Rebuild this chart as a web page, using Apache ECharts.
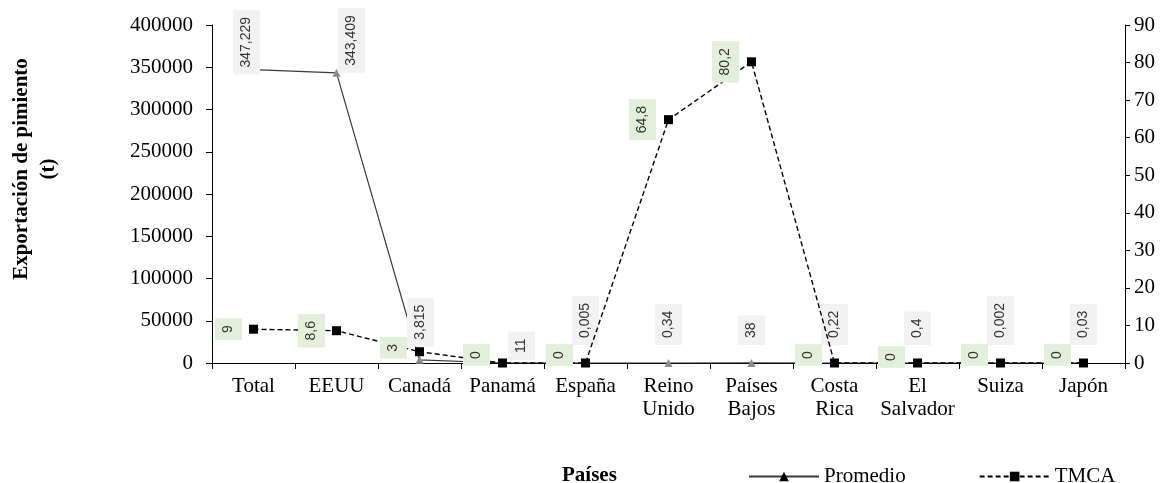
<!DOCTYPE html>
<html>
<head>
<meta charset="utf-8">
<script src="https://cdn.jsdelivr.net/npm/echarts@6/dist/echarts.min.js"></script>
<style>html,body{margin:0;padding:0;background:#fff}#c{width:1164px;height:483px}</style>
</head>
<body>
<div id="c"></div>
<script>
// ---- data ----
const categories = ['Total', 'EEUU', 'Canadá', 'Panamá', 'España', 'Reino\nUnido', 'Países\nBajos', 'Costa\nRica', 'El\nSalvador', 'Suiza', 'Japón'];
const promedio = [347229, 343409, 3815, 11, 0.005, 0.34, 38, 0.22, 0.4, 0.002, 0.03];
const tmca = [9, 8.6, 3, 0, 0, 64.8, 80.2, 0, 0, 0, 0];
const leftTicks = [0, 400000, 50000];   // min, max, interval
const rightTicks = [0, 90, 10];

// ---- label nudges (visual px: [dx, dy]) ----
const promedioNudge = [[-7, 23], [15, 18], [1, 5], [19, 15], [0, 0], [0, 0], [0, 0], [0, 0], [0, 0], [0, 0], [0, 0]];
const tmcaNudge = [[1, 0], [1, 0], [0, -4], [0, -8], [0, -8], [0, 0], [0, 0], [0, -8], [0, -6], [0, -8], [0, -8]];

function fmtProm(v) {
  if (v >= 1000) return v.toLocaleString('en-US');
  return String(v).replace('.', ',');
}
function fmtT(v) { return String(v).replace('.', ','); }
// offset is rotated with the label (90deg CCW): visual (vx,vy) -> offset [-vy, vx]
function off(n) { return [-n[1], n[0]]; }

const labelFont = { fontFamily: 'Liberation Sans', fontSize: 14, color: '#333', lineHeight: 15 };

const promData = promedio.map((v, i) => ({ value: v, label: { offset: off(promedioNudge[i]) } }));
const tmcaData = tmca.map((v, i) => ({ value: v, label: { offset: off(tmcaNudge[i]) } }));

const serif = 'Liberation Serif';
const chart = echarts.init(document.getElementById('c'));
chart.setOption({
  animation: false,
  backgroundColor: '#fff',
  grid: { left: 212, right: 39, top: 25, bottom: 120 },
  title: {
    text: 'Países', left: 562, top: 465, padding: 0,
    textStyle: { fontFamily: serif, fontSize: 21, fontWeight: 'bold', color: '#000' }
  },
  graphic: [{
    type: 'text', x: 35, y: 169, rotation: Math.PI / 2,
    style: {
      text: 'Exportación de pimiento\n(t)', fontFamily: serif, fontSize: 21, fontWeight: 'bold',
      fill: '#000', align: 'center', verticalAlign: 'middle', lineHeight: 27
    }
  }],
  legend: {
    left: 748, top: 466, padding: 0, itemWidth: 70, itemHeight: 12, itemGap: 73,
    textStyle: { fontFamily: serif, fontSize: 21, color: '#000' },
    data: [
      { name: 'Promedio', itemStyle: { color: '#000' } },
      { name: 'TMCA', itemStyle: { color: '#000' } }
    ]
  },
  xAxis: {
    type: 'category', data: categories, boundaryGap: true,
    axisLine: { lineStyle: { color: '#000', width: 1 } },
    axisTick: { show: true, length: 6, lineStyle: { color: '#000' } },
    axisLabel: { fontFamily: serif, fontSize: 21, color: '#000', margin: 12, lineHeight: 23, interval: 0 }
  },
  yAxis: [{
    type: 'value', min: leftTicks[0], max: leftTicks[1], interval: leftTicks[2],
    splitLine: { show: false },
    axisLine: { show: true, lineStyle: { color: '#000' } },
    axisTick: { show: true, length: 6, lineStyle: { color: '#000' } },
    axisLabel: { fontFamily: serif, fontSize: 21, color: '#000', margin: 19, formatter: v => String(v) }
  }, {
    type: 'value', min: rightTicks[0], max: rightTicks[1], interval: rightTicks[2], position: 'right',
    splitLine: { show: false },
    axisLine: { show: true, lineStyle: { color: '#000' } },
    axisTick: { show: true, length: 5, lineStyle: { color: '#000' } },
    axisLabel: { fontFamily: serif, fontSize: 21, color: '#000', margin: 9, formatter: v => String(v) }
  }],
  series: [{
    name: 'Promedio', type: 'line', yAxisIndex: 0, data: promData,
    symbol: 'triangle', symbolSize: 8,
    itemStyle: { color: '#8c8c8c' },
    lineStyle: { color: '#3a3a3a', width: 1.2 },
    z: 3,
    label: Object.assign({
      show: true, position: 'top', distance: 14, rotate: 90, align: 'left', verticalAlign: 'middle',
      backgroundColor: '#f2f2f2', padding: [6, 7],
      formatter: p => fmtProm(p.value)
    }, labelFont)
  }, {
    name: 'TMCA', type: 'line', yAxisIndex: 1, data: tmcaData,
    symbol: 'rect', symbolSize: 9,
    itemStyle: { color: '#000' },
    lineStyle: { color: '#000', width: 1.4, type: [5, 3] },
    z: 4,
    label: Object.assign({
      show: true, position: 'left', distance: 8, rotate: 90, align: 'center', verticalAlign: 'bottom',
      backgroundColor: '#e2efda', padding: [6, 7],
      formatter: p => fmtT(p.value)
    }, labelFont)
  }]
});
</script>
</body>
</html>
